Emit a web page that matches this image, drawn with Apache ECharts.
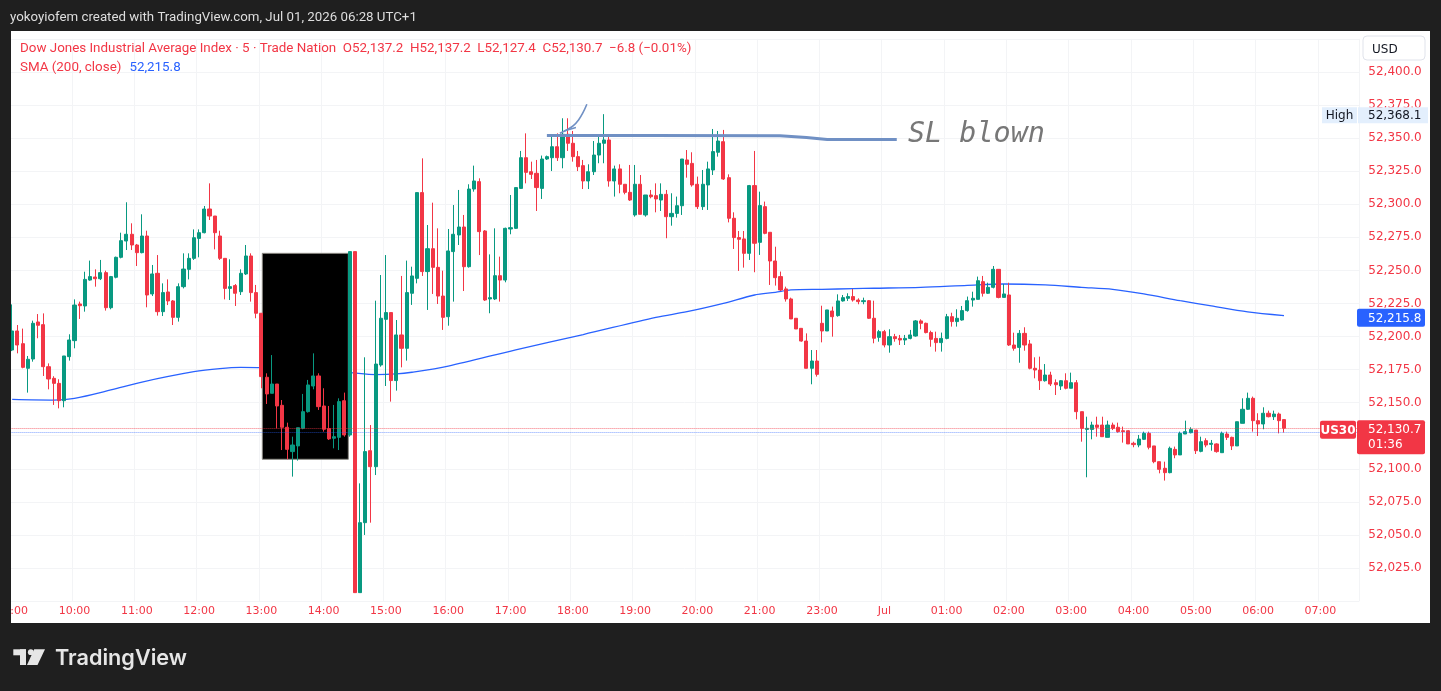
<!DOCTYPE html>
<html><head><meta charset="utf-8">
<script src="https://cdn.jsdelivr.net/npm/echarts@6/dist/echarts.min.js"></script>
<style>html,body{margin:0;padding:0;background:#1f1f1f;overflow:hidden}#c{width:1441px;height:691px}</style>
</head><body><div id="c"></div>
<script>
// ---------- data ----------
const sessionHours = [9,10,11,12,13,14,15,16,17,18,19,20,21,23,0,1,2,3,4,5,6,7];
const slotCount = 260;
// [open, close, low, high] per 5-minute candle
const candles = [
[52189.8,52204.2,52189.0,52224.3],[52204.2,52193.6,52187.3,52208.7],[52194.6,52176.7,52176.0,52206.0],[52176.0,52182.8,52157.6,52185.3],[52183.0,52210.0,52181.0,52212.0],
[52211.0,52208.5,52198.7,52217.0],[52209.0,52177.2,52170.2,52217.5],[52177.2,52167.9,52160.1,52179.7],[52168.4,52164.6,52148.3,52170.0],[52164.6,52151.5,52145.7,52167.7],
[52151.5,52185.3,52146.5,52185.3],[52184.8,52197.4,52181.8,52201.7],[52196.9,52223.8,52191.1,52228.1],[52224.6,52223.3,52213.3,52226.4],[52223.1,52243.2,52218.8,52249.0],
[52242.7,52245.3,52242.2,52257.4],[52245.0,52243.7,52237.7,52250.8],[52243.7,52248.3,52242.7,52257.9],[52248.3,52221.8,52219.6,52249.8],[52221.8,52245.3,52220.6,52245.8],
[52244.8,52259.9,52244.0,52260.4],[52259.9,52272.5,52259.1,52278.5],[52272.2,52277.3,52265.4,52301.5],[52277.3,52269.2,52265.4,52285.6],[52269.2,52263.4,52253.3,52270.0],
[52263.4,52276.0,52262.9,52292.4],[52276.0,52231.4,52222.1,52280.0],[52232.2,52247.3,52230.6,52254.1],[52247.8,52218.8,52215.8,52261.6],[52218.8,52233.2,52215.5,52240.2],
[52233.7,52226.9,52223.8,52243.2],[52226.9,52214.5,52208.7,52227.6],[52214.5,52237.7,52211.3,52240.2],[52237.7,52251.0,52236.4,52262.9],[52250.8,52259.1,52243.2,52262.9],
[52259.1,52274.7,52257.9,52281.0],[52274.2,52278.5,52259.9,52281.0],[52278.5,52296.4,52278.0,52298.7],[52296.4,52291.1,52288.1,52315.8],[52291.1,52278.5,52265.9,52291.1],
[52276.0,52259.1,52257.9,52280.0],[52259.1,52236.4,52228.1,52259.1],[52236.4,52237.7,52227.6,52258.4],[52238.5,52232.7,52223.1,52239.7],[52233.9,52247.8,52231.4,52250.8],
[52247.3,52260.9,52246.5,52269.2],[52260.9,52233.2,52226.4,52262.9],[52233.2,52217.6,52213.8,52239.0],[52217.6,52169.7,52160.9,52217.6],[52169.2,52156.6,52149.0,52172.2],
[52157.1,52164.1,52157.1,52186.0],[52164.1,52147.5,52130.6,52164.1],[52148.0,52131.4,52114.2,52152.0],[52131.4,52114.7,52107.2,52134.9],[52113.0,52118.0,52094.1,52124.3],
[52117.3,52131.1,52106.2,52131.1],[52130.6,52143.2,52129.9,52156.6],[52143.2,52163.4,52142.5,52167.2],[52162.6,52170.2,52160.1,52187.3],[52170.2,52147.0,52144.5,52172.2],
[52147.5,52129.9,52128.1,52160.9],[52130.4,52122.6,52121.8,52147.5],[52123.1,52124.3,52115.5,52148.3],[52123.8,52150.8,52114.2,52153.3],[52151.5,52125.6,52124.3,52157.6],
[52125.6,52264.2,52124.3,52264.2],[52264.2,52006.4,52006.4,52264.2],[52006.4,52059.3,52006.4,52089.0],[52059.3,52113.0,52050.0,52184.3],[52113.7,52101.6,52059.3,52133.1],
[52101.6,52179.2,52095.3,52227.1],[52178.5,52213.8,52177.2,52246.5],[52213.0,52218.1,52162.6,52261.6],[52218.1,52166.7,52150.8,52218.1],[52166.7,52201.2,52159.1,52212.5],
[52201.2,52191.1,52176.7,52245.8],[52191.1,52233.2,52181.8,52257.4],[52232.7,52245.8,52223.9,52252.8],[52244.0,52308.8,52240.2,52308.8],[52308.8,52249.1,52245.8,52334.7],
[52249.1,52266.4,52220.1,52284.3],[52266.4,52252.3,52232.2,52301.2],[52252.3,52230.6,52224.6,52281.8],[52230.6,52214.5,52205.0,52249.8],[52215.0,52264.7,52208.2,52281.3],
[52264.2,52277.3,52226.4,52299.4],[52276.8,52282.8,52269.2,52310.8],[52282.8,52252.8,52234.4,52291.9],[52252.8,52311.5,52252.1,52315.1],[52311.5,52317.6,52309.5,52329.2],
[52317.1,52279.3,52261.6,52319.6],[52279.8,52227.6,52226.9,52280.5],[52228.4,52229.4,52217.6,52262.1],[52228.4,52246.0,52227.6,52281.8],[52246.0,52242.7,52226.4,52260.4],
[52242.7,52281.8,52241.0,52282.3],[52281.3,52282.3,52277.3,52307.0],[52281.8,52312.6,52281.3,52312.6],[52312.0,52335.2,52311.6,52340.3],[52335.2,52324.1,52315.8,52353.6],
[52324.6,52322.6,52319.1,52332.2],[52323.4,52312.6,52294.9,52333.5],[52312.0,52334.2,52304.0,52336.8],[52334.2,52336.0,52333.5,52336.8],[52335.2,52343.5,52325.1,52351.1],
[52343.5,52335.2,52332.7,52353.6],[52335.2,52352.9,52327.2,52365.0],[52352.9,52346.1,52340.3,52365.0],[52346.1,52336.0,52332.2,52355.4],[52336.0,52328.4,52325.1,52340.3],
[52329.2,52317.6,52311.5,52333.5],[52317.6,52324.6,52311.5,52330.2],[52324.6,52337.2,52322.1,52347.8],[52337.2,52346.1,52331.0,52351.1],[52346.1,52348.6,52331.0,52368.1],
[52348.6,52317.6,52313.3,52351.9],[52317.6,52326.7,52305.8,52329.2],[52326.7,52315.1,52308.3,52330.2],[52315.1,52309.0,52307.5,52315.1],[52309.0,52303.2,52302.5,52329.7],
[52291.9,52315.1,52290.6,52329.7],[52315.1,52292.4,52292.4,52322.1],[52291.9,52307.0,52290.6,52307.0],[52307.0,52305.7,52304.5,52310.8],[52306.5,52304.0,52293.9,52315.8],
[52303.2,52307.5,52294.9,52315.8],[52307.5,52290.6,52274.3,52310.8],[52290.6,52293.1,52283.8,52308.3],[52293.1,52298.9,52289.9,52305.8],[52298.9,52334.2,52291.9,52334.2],
[52333.5,52330.2,52320.1,52341.0],[52330.9,52314.6,52313.3,52339.3],[52315.1,52298.2,52296.4,52320.9],[52298.2,52315.1,52295.7,52325.9],[52314.6,52326.7,52295.7,52332.2],
[52325.9,52339.8,52322.1,52356.9],[52339.3,52347.8,52336.0,52355.4],[52347.3,52319.1,52318.4,52356.2],[52320.1,52289.4,52286.3,52322.6],[52289.4,52274.8,52266.2,52293.9],
[52274.8,52273.5,52249.6,52279.8],[52273.8,52262.9,52252.1,52279.8],[52262.9,52314.1,52257.9,52314.6],[52314.1,52270.5,52248.6,52340.3],[52271.2,52299.0,52261.7,52309.5],
[52298.2,52278.0,52277.3,52302.0],[52278.8,52257.1,52239.0,52278.8],[52257.1,52244.5,52238.5,52267.9],[52245.3,52235.2,52234.4,52249.1],[52236.0,52228.4,52226.4,52237.7],
[52228.4,52213.3,52213.3,52229.4],[52213.8,52205.7,52205.7,52213.8],[52206.2,52196.6,52196.1,52206.2],[52196.6,52176.0,52176.0,52202.4],[52176.0,52181.5,52163.9,52189.8],
[52181.5,52171.4,52169.7,52189.8],[52210.0,52204.2,52195.6,52223.3],[52204.2,52220.1,52204.2,52220.1],[52219.3,52215.0,52199.9,52222.6],[52215.8,52226.9,52215.0,52231.9],
[52226.9,52229.4,52226.4,52231.4],[52228.9,52230.2,52226.9,52232.7],[52230.2,52227.6,52226.4,52235.9],[52227.6,52226.4,52224.4,52228.9],[52226.4,52227.1,52224.4,52229.4],
[52227.1,52213.8,52213.3,52227.6],[52213.8,52198.7,52194.9,52227.1],[52199.4,52203.7,52196.1,52205.0],[52203.7,52193.6,52191.8,52205.0],[52193.6,52199.9,52187.8,52205.5],
[52199.9,52198.4,52196.1,52202.0],[52198.6,52197.4,52193.6,52201.2],[52197.4,52198.6,52193.6,52201.2],[52198.6,52201.2,52197.9,52205.0],[52200.4,52211.8,52199.9,52212.5],
[52211.8,52210.0,52205.5,52213.0],[52210.0,52203.0,52202.4,52210.5],[52203.0,52197.9,52192.3,52204.4],[52198.6,52195.4,52188.6,52203.7],[52195.4,52198.6,52188.6,52203.0],
[52198.6,52215.0,52197.9,52217.1],[52215.0,52211.3,52207.5,52218.0],[52211.3,52213.8,52207.5,52220.6],[52212.5,52219.6,52212.0,52223.1],[52219.6,52227.1,52218.8,52230.2],
[52227.6,52228.9,52222.6,52233.9],[52228.1,52242.2,52228.1,52245.3],[52241.5,52232.7,52230.2,52245.8],[52232.7,52237.2,52232.2,52240.7],[52237.2,52250.8,52236.4,52253.3],
[52250.8,52229.6,52228.9,52250.8],[52229.6,52232.2,52229.6,52239.7],[52231.4,52193.6,52192.9,52240.7],[52193.6,52191.1,52189.3,52202.9],[52191.8,52202.4,52180.2,52204.9],
[52202.4,52193.6,52189.3,52207.0],[52194.4,52176.0,52175.2,52197.4],[52176.0,52174.7,52168.4,52184.3],[52174.7,52166.6,52159.6,52184.8],[52166.6,52170.9,52165.9,52179.2],
[52170.9,52164.1,52162.6,52173.4],[52165.1,52163.6,52155.8,52167.6],[52162.6,52166.6,52159.6,52167.1],[52166.6,52160.9,52160.1,52172.2],[52160.9,52165.1,52160.9,52172.7],
[52165.1,52143.2,52137.4,52167.1],[52143.2,52130.6,52120.5,52143.2],[52129.8,52130.6,52093.6,52139.4],[52129.8,52133.1,52122.3,52135.6],[52133.1,52131.4,52124.3,52139.4],
[52133.1,52124.3,52124.3,52139.4],[52123.8,52133.1,52123.8,52136.4],[52133.1,52130.6,52129.3,52134.9],[52131.4,52128.1,52127.3,52134.9],[52128.8,52128.1,52119.8,52131.9],
[52128.8,52118.8,52118.8,52129.3],[52119.3,52118.3,52116.3,52120.5],[52118.0,52122.5,52116.3,52125.6],[52122.3,52126.8,52121.8,52128.1],[52126.8,52116.3,52114.7,52128.1],
[52117.3,52105.4,52104.2,52117.3],[52105.4,52099.6,52096.6,52105.4],[52100.4,52097.1,52091.1,52105.4],[52097.1,52115.5,52096.6,52116.8],[52114.7,52110.5,52108.0,52116.8],
[52110.5,52126.8,52110.5,52128.1],[52126.3,52128.1,52126.3,52136.4],[52127.3,52129.8,52126.8,52131.4],[52129.3,52113.7,52111.2,52129.3],[52113.2,52120.5,52112.5,52124.3],
[52121.3,52118.0,52116.3,52123.1],[52118.5,52119.3,52113.7,52121.8],[52118.8,52113.0,52112.2,52119.3],[52112.2,52126.8,52112.2,52128.1],[52126.3,52123.8,52121.8,52128.1],
[52123.8,52117.3,52114.2,52124.3],[52117.3,52135.6,52117.3,52135.6],[52134.4,52145.0,52134.4,52153.3],[52145.0,52153.3,52144.5,52157.6],[52153.3,52136.4,52128.1,52154.6],
[52136.4,52133.9,52124.8,52142.0],[52133.9,52142.0,52129.9,52146.5],[52142.0,52139.4,52138.9,52144.0],[52139.4,52141.4,52136.9,52144.0],[52141.4,52136.4,52126.8,52142.5],
[52137.2,52130.7,52127.4,52137.2]
];
// SMA(200) line: [candle index, value]
const smaPoints = [[0,52152.5],[8,52152],[12,52153.3],[19,52159.6],[25,52165.6],[35,52173.4],[40,52175.8],[44,52176.7],[48,52176.5],[56,52175],[65,52172.7],[70,52171.2],[74,52171.7],[77,52173],[84,52177.7],[97,52190],[110,52201.5],[124,52214.5],[130,52218.8],[137,52225.1],[143,52231.4],[147,52233.4],[150,52235.2],[156,52235.7],[162,52236.2],[166,52236.5],[175,52237.2],[184,52238.7],[191,52239.7],[199,52239],[206,52237.2],[212,52235.7],[218,52232.2],[225,52227.1],[231,52223.1],[238,52218.6],[245,52215.8]];
// user drawings (index, price)
const boxRect = [48.18, 52262.9, 64.75, 52107.2];
const slLine = [[103,52352],[122.9,52352],[123,52351.7],[147.9,52351.7],[148,52351],[153,52350.4],[157,52349],[170.4,52349]];
const arrowLine = [[105.5,52353.7],[106.8,52356.1],[108.1,52359.4],[109.1,52363.7],[109.9,52368.8],[110.7,52375.6]];
const arrowHook = [[106.3,52355.4],[108.6,52358.0]];
const lastPrice = 52130.7, bidPrice = 52127.6, smaLast = 52215.8, highPrice = 52368.1;
const yMin = 52000, yMax = 52425, yStep = 25;

// ---------- categories ----------
const categories = [];
for (const h of sessionHours) for (let m = 0; m < 60; m += 5)
  categories.push(String(h).padStart(2,'0') + ':' + String(m).padStart(2,'0'));
categories.length = slotCount;

const UP = '#089981', DOWN = '#f23645', RED = '#f23645', BLUE = '#2962ff', PEN = '#7090c4';
const fmt = v => v.toLocaleString('en-US', {minimumFractionDigits:1, maximumFractionDigits:1});

const gridLeft = 9.6, gridTop = 38.9, gridW = 1349.7, gridH = 562.2;

const chart = echarts.init(document.getElementById('c'), null, {renderer:'canvas', width:1441, height:691});
chart.setOption({
  animation: false,
  backgroundColor: '#1f1f1f',
  grid: {left: gridLeft, top: gridTop, width: gridW, height: gridH, containLabel: false, outerBoundsMode: 'none'},
  xAxis: [{
    type: 'category', data: categories, boundaryGap: true,
    axisLine: {show:false}, axisTick: {show:false},
    axisLabel: {interval: (i, v) => v.endsWith(':00'), formatter: v => v === '00:00' ? 'Jul' : v,
      color: RED, fontFamily: 'DejaVu Sans', fontSize: 11, margin: 5, hideOverlap: false},
    splitLine: {show:true, interval: (i, v) => v.endsWith(':00'), lineStyle:{color:'#f3f4f6', width:1}}
  }, {
    type: 'value', min: -0.5, max: slotCount - 0.5, show: false
  }],
  yAxis: [{
    type: 'value', position: 'right', min: yMin, max: yMax, interval: yStep, scale: true,
    axisLine: {show:false}, axisTick: {show:false},
    axisLabel: {formatter: fmt, color: RED, fontFamily: 'DejaVu Sans', fontSize: 12, margin: 9,
      padding: [8, 0, 0, 0], showMinLabel: false, showMaxLabel: false},
    splitLine: {show:true, lineStyle:{color:'#f3f4f6', width:1}}
  }],
  series: [{
    name: 'SMA', type: 'line', xAxisIndex: 1, data: smaPoints, showSymbol: false, smooth: 0.3,
    lineStyle: {color: BLUE, width: 1.3}, z: 1, silent: true
  }, {
    name: 'box', type: 'custom', xAxisIndex: 1, z: 2, silent: true,
    data: [boxRect], encode: {x: [0, 2], y: [1, 3]},
    renderItem: (params, api) => {
      const p1 = api.coord([api.value(0), api.value(1)]);
      const p2 = api.coord([api.value(2), api.value(3)]);
      return {type: 'rect', shape: {x: p1[0], y: p1[1], width: p2[0]-p1[0], height: p2[1]-p1[1]},
        style: {fill: '#000', stroke: '#8c8a84', lineWidth: 1}};
    }
  }, {
    name: 'US30', type: 'candlestick', xAxisIndex: 0, data: candles, barWidth: 3.6, z: 3,
    itemStyle: {color: UP, color0: DOWN, borderColor: UP, borderColor0: DOWN, borderWidth: 1},
    markLine: {silent: true, symbol: ['none','none'], label: {show:false}, animation: false,
      data: [{yAxis: lastPrice, lineStyle: {color: RED, type: 'dotted', width: 1, opacity: 0.7}},
             {yAxis: bidPrice, lineStyle: {color: BLUE, type: 'dotted', width: 1, opacity: 0.6}}]}
  }, {
    name: 'SL', type: 'line', xAxisIndex: 1, data: slLine, showSymbol: false, z: 4, silent: true,
    lineStyle: {color: PEN, width: 3}
  }, {
    name: 'arrow', type: 'line', xAxisIndex: 1, data: arrowLine, showSymbol: false, smooth: 0.4, z: 4, silent: true,
    lineStyle: {color: PEN, width: 1.6}
  }, {
    name: 'hook', type: 'line', xAxisIndex: 1, data: arrowHook, showSymbol: false, z: 4, silent: true,
    lineStyle: {color: PEN, width: 1.4}
  }]
});

// ---------- overlay texts / tags ----------
const mctx = document.createElement('canvas').getContext('2d');
function fitSize(text, font, target, lo, hi) {
  mctx.font = font.replace('SIZE', '100px');
  const s = 100 * target / mctx.measureText(text).width;
  return Math.max(lo, Math.min(hi, s));
}
function textW(text, font) { mctx.font = font; return mctx.measureText(text).width; }
const py = v => chart.convertToPixel({yAxisIndex: 0}, v);

const headerText = 'yokoyiofem created with TradingView.com, Jul 01, 2026 06:28 UTC+1';
const legend1 = 'Dow Jones Industrial Average Index · 5 · Trade Nation  O52,137.2  H52,137.2  L52,127.4  C52,130.7  −6.8 (−0.01%)';
const hFontT = "normal normal SIZE Roboto";
const hSize = fitSize(headerText, hFontT, 407, 11, 15);
const lSize = fitSize(legend1, hFontT, 672, 11, 15);
const lFont = `normal normal ${lSize.toFixed(2)}px Roboto`;
const smaLabel = 'SMA (200, close)';
const smaLabelW = textW(smaLabel, lFont);
const slFontT = "italic normal SIZE 'DejaVu Sans Mono'";
const slSize = fitSize('SL blown', slFontT, 137, 20, 34);
const tvFontT = "normal 600 SIZE Inter";
const tvSize = fitSize('TradingView', tvFontT, 132, 16, 28);
const tagFont = "normal normal 12px 'DejaVu Sans'";

const yHigh = py(highPrice), ySma = py(smaLast), yLast = py(lastPrice);
const T = (text, x, y, fill, font, align) => ({type:'text', z: 60, silent: true,
  style: {text, x, y, fill, font, align: align || 'left', verticalAlign: 'middle'}});
const R = (x, y, w, h, fill, extra) => ({type:'rect', z: 55, silent: true,
  shape: Object.assign({x, y, width: w, height: h}, extra && extra.r ? {r: extra.r} : {}),
  style: Object.assign({fill}, extra && extra.stroke ? {stroke: extra.stroke, lineWidth: 1} : {})});

chart.setOption({graphic: [
  // white panel behind the plot
  {type:'rect', z: -5, silent: true, shape: {x: 11, y: 31, width: 1419, height: 592}, style: {fill: '#ffffff'}},
  // dark frame masks
  {type:'rect', z: 100, silent: true, shape: {x: 0, y: 0, width: 11, height: 691}, style: {fill: '#1f1f1f'}},
  {type:'rect', z: 100, silent: true, shape: {x: 0, y: 0, width: 1441, height: 31}, style: {fill: '#1f1f1f'}},
  {type:'rect', z: 100, silent: true, shape: {x: 0, y: 623, width: 1441, height: 68}, style: {fill: '#1f1f1f'}},
  {type:'rect', z: 100, silent: true, shape: {x: 1430, y: 0, width: 11, height: 691}, style: {fill: '#1f1f1f'}},
  Object.assign(T(headerText, 10, 17.5, '#dedede', `normal normal ${hSize.toFixed(2)}px Roboto`), {z: 110}),
  // legend
  T(legend1, 20, 49, RED, lFont),
  T(smaLabel, 20, 68, RED, lFont),
  T(fmt(smaLast), 20 + smaLabelW + 8, 68, BLUE, lFont),
  // USD box
  R(1363, 36, 62, 24, '#ffffff', {r: 4, stroke: '#e0e3eb'}),
  T('USD', 1372, 49.5, '#131722', tagFont),
  // High tag
  R(1322, yHigh - 7, 35, 16, '#e3effd'),
  R(1358, yHigh - 7, 70, 16, '#e3effd'),
  T('High', 1339.5, yHigh + 2, '#131722', tagFont, 'center'),
  T(fmt(highPrice), 1368, yHigh + 2, '#131722', tagFont),
  // SMA tag
  R(1357, ySma - 7, 68, 18, BLUE, {r: 2}),
  T(fmt(smaLast), 1368, ySma + 3, '#ffffff', tagFont),
  // price tags
  R(1320, yLast - 7.5, 36, 18, RED, {r: 2}),
  T('US30', 1338, yLast + 2.5, '#ffffff', "normal bold 12px 'DejaVu Sans'", 'center'),
  R(1357, yLast - 8, 68, 34, RED, {r: 2}),
  T(fmt(lastPrice), 1368, yLast + 2, '#ffffff', tagFont),
  T('01:36', 1368, yLast + 17, '#ffffff', tagFont),
  // SL blown note
  T('SL blown', 908, 135, '#777777', `italic normal ${slSize.toFixed(2)}px 'DejaVu Sans Mono'`),
  // TradingView logo
  {type:'rect', z: 110, silent: true, shape: {x: 13.3, y: 649.3, width: 12.7, height: 6}, style: {fill: '#e6e6e6'}},
  {type:'rect', z: 110, silent: true, shape: {x: 20, y: 649.3, width: 6, height: 15.7}, style: {fill: '#e6e6e6'}},
  {type:'circle', z: 110, silent: true, shape: {cx: 30.8, cy: 652.2, r: 2.9}, style: {fill: '#e6e6e6'}},
  {type:'polygon', z: 110, silent: true, shape: {points: [[34.2,649.3],[45,649.3],[37.5,665],[27,665]]}, style: {fill: '#e6e6e6'}},
  Object.assign(T('TradingView', 55, 658, '#e6e6e6', `normal 600 ${tvSize.toFixed(2)}px Inter`), {z: 110})
]});
</script>
</body></html>
